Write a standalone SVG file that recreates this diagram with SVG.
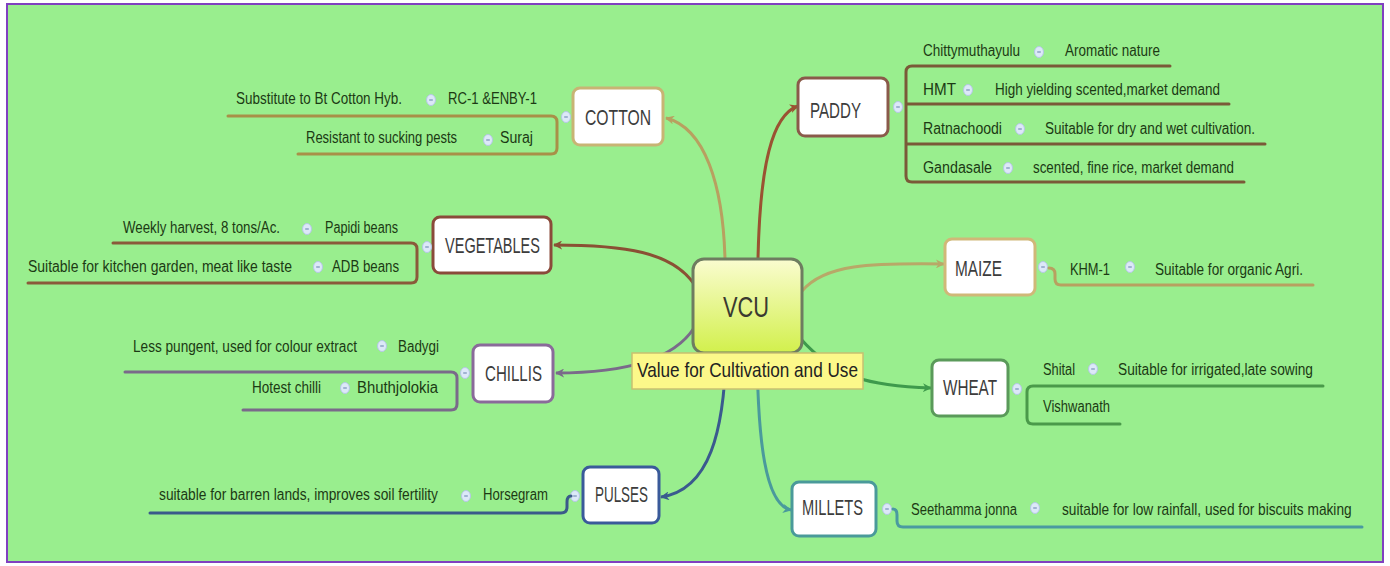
<svg xmlns="http://www.w3.org/2000/svg" width="1390" height="566" viewBox="0 0 1390 566">
<defs>
<linearGradient id="gCenter" x1="0" y1="0" x2="0" y2="1">
<stop offset="0" stop-color="#fafcd0"/>
<stop offset="1" stop-color="#d2f04c"/>
</linearGradient>
<marker id="aCot" viewBox="0 0 10 10" refX="9" refY="5" markerWidth="9" markerHeight="9" markerUnits="userSpaceOnUse" orient="auto"><path d="M0,0 L10,5 L0,10 L3,5 z" fill="#b8a060"/></marker>
<marker id="aPad" viewBox="0 0 10 10" refX="9" refY="5" markerWidth="9" markerHeight="9" markerUnits="userSpaceOnUse" orient="auto"><path d="M0,0 L10,5 L0,10 L3,5 z" fill="#9a5232"/></marker>
<marker id="aVeg" viewBox="0 0 10 10" refX="9" refY="5" markerWidth="9" markerHeight="9" markerUnits="userSpaceOnUse" orient="auto"><path d="M0,0 L10,5 L0,10 L3,5 z" fill="#8a5034"/></marker>
<marker id="aChi" viewBox="0 0 10 10" refX="9" refY="5" markerWidth="9" markerHeight="9" markerUnits="userSpaceOnUse" orient="auto"><path d="M0,0 L10,5 L0,10 L3,5 z" fill="#7a6a8a"/></marker>
<marker id="aMai" viewBox="0 0 10 10" refX="9" refY="5" markerWidth="9" markerHeight="9" markerUnits="userSpaceOnUse" orient="auto"><path d="M0,0 L10,5 L0,10 L3,5 z" fill="#b8a868"/></marker>
<marker id="aWhe" viewBox="0 0 10 10" refX="9" refY="5" markerWidth="9" markerHeight="9" markerUnits="userSpaceOnUse" orient="auto"><path d="M0,0 L10,5 L0,10 L3,5 z" fill="#3e9a4c"/></marker>
<marker id="aPul" viewBox="0 0 10 10" refX="9" refY="5" markerWidth="9" markerHeight="9" markerUnits="userSpaceOnUse" orient="auto"><path d="M0,0 L10,5 L0,10 L3,5 z" fill="#3a5a8e"/></marker>
<marker id="aMil" viewBox="0 0 10 10" refX="9" refY="5" markerWidth="9" markerHeight="9" markerUnits="userSpaceOnUse" orient="auto"><path d="M0,0 L10,5 L0,10 L3,5 z" fill="#4a9a9c"/></marker>
<g id="minus">
<ellipse cx="0" cy="0" rx="4.5" ry="5.5" fill="#dce8f8" stroke="#b4c8e4" stroke-width="1"/>
<line x1="-1.8" y1="0" x2="1.8" y2="0" stroke="#7890b8" stroke-width="1.2"/>
</g>
</defs>
<style>
.leaf{font-family:"Liberation Sans",Arial,sans-serif;font-size:16px;fill:#1c3a14}
.ntext{font-family:"Liberation Sans",Arial,sans-serif;font-size:22px;fill:#3c3c3c}
.node{fill:#ffffff;stroke-width:3}
.conn{fill:none;stroke-width:3}
.br{fill:none;stroke-width:3;stroke-linecap:round}
</style>
<rect x="0" y="0" width="1390" height="566" fill="#ffffff"/>
<rect x="7" y="4" width="1376" height="558" fill="#99ee8e" stroke="#8040c0" stroke-width="2"/>

<g id="connectors">
<path class="conn" d="M725,259 C723,185 705,128 666,118" stroke="#b8a060" marker-end="url(#aCot)"/>
<path class="conn" d="M758,259 C760,165 772,115 798,106" stroke="#9a5232" marker-end="url(#aPad)"/>
<path class="conn" d="M694,284 C672,252 625,245 554,245" stroke="#8a5034" marker-end="url(#aVeg)"/>
<path class="conn" d="M694,328 C672,362 620,373 556,373" stroke="#7a6a8a" marker-end="url(#aChi)"/>
<path class="conn" d="M802,291 C825,264 870,263 944,264" stroke="#b8a868" marker-end="url(#aMai)"/>
<path class="conn" d="M800,338 C835,378 870,386 931,388" stroke="#3e9a4c" marker-end="url(#aWhe)"/>
<path class="conn" d="M726,353 C724,430 710,490 661,497" stroke="#3a5a8e" marker-end="url(#aPul)"/>
<path class="conn" d="M757,353 C758,440 765,505 791,510" stroke="#4a9a9c" marker-end="url(#aMil)"/>
</g>

<g id="node-vcu">
<rect x="693" y="259" width="109" height="94" rx="11" fill="url(#gCenter)" stroke="#6e7c60" stroke-width="3"/>
<text x="723" y="317" class="ntext" style="font-size:30px;fill:#3a3a30" textLength="46" lengthAdjust="spacingAndGlyphs">VCU</text>
</g>
<g id="label-vcu">
<rect x="632" y="353" width="231" height="36" fill="#fcf88a" stroke="#c8c070" stroke-width="1.5"/>
<text x="637" y="377" class="leaf" style="font-size:21px;fill:#222" textLength="221" lengthAdjust="spacingAndGlyphs">Value for Cultivation and Use</text>
</g>

<g id="node-cotton">
<rect class="node" x="573" y="88" width="90" height="57" rx="7" stroke="#c8b474"/>
<text x="585" y="125" class="ntext" textLength="66" lengthAdjust="spacingAndGlyphs">COTTON</text>
<use href="#minus" x="566" y="117"/>
<path class="br" d="M228,116 H551 Q557,116 557,122 V148 Q557,154 551,154 H298" stroke="#a89048"/>
<text x="236" y="104" class="leaf" textLength="166" lengthAdjust="spacingAndGlyphs">Substitute to Bt Cotton Hyb.</text>
<use href="#minus" x="431" y="100"/>
<text x="448" y="104" class="leaf" textLength="89" lengthAdjust="spacingAndGlyphs">RC-1 &amp;ENBY-1</text>
<text x="306" y="143" class="leaf" textLength="151" lengthAdjust="spacingAndGlyphs">Resistant to sucking pests</text>
<use href="#minus" x="488" y="140"/>
<text x="500" y="143" class="leaf" textLength="33" lengthAdjust="spacingAndGlyphs">Suraj</text>
</g>

<g id="node-paddy">
<rect class="node" x="798" y="78" width="90" height="58" rx="7" stroke="#8a5a4a"/>
<text x="810" y="118" class="ntext" textLength="51" lengthAdjust="spacingAndGlyphs">PADDY</text>
<use href="#minus" x="898" y="107"/>
<path class="br" d="M1170,66 H912 Q906,66 906,72 V176 Q906,182 912,182 H1244 M906,104 H1229 M906,144 H1265" stroke="#7a5a38"/>
<text x="923" y="56" class="leaf" textLength="97" lengthAdjust="spacingAndGlyphs">Chittymuthayulu</text>
<use href="#minus" x="1039" y="52"/>
<text x="1065" y="56" class="leaf" textLength="95" lengthAdjust="spacingAndGlyphs">Aromatic nature</text>
<text x="923" y="95" class="leaf" textLength="33" lengthAdjust="spacingAndGlyphs">HMT</text>
<use href="#minus" x="968" y="90"/>
<text x="995" y="95" class="leaf" textLength="225" lengthAdjust="spacingAndGlyphs">High yielding scented,market demand</text>
<text x="923" y="134" class="leaf" textLength="79" lengthAdjust="spacingAndGlyphs">Ratnachoodi</text>
<use href="#minus" x="1020" y="129"/>
<text x="1045" y="134" class="leaf" textLength="210" lengthAdjust="spacingAndGlyphs">Suitable for dry and wet cultivation.</text>
<text x="923" y="173" class="leaf" textLength="69" lengthAdjust="spacingAndGlyphs">Gandasale</text>
<use href="#minus" x="1008" y="168"/>
<text x="1033" y="173" class="leaf" textLength="201" lengthAdjust="spacingAndGlyphs">scented, fine rice, market demand</text>
</g>

<g id="node-vegetables">
<rect class="node" x="433" y="217" width="118" height="56" rx="7" stroke="#8a4a3a"/>
<text x="445" y="253" class="ntext" textLength="95" lengthAdjust="spacingAndGlyphs">VEGETABLES</text>
<use href="#minus" x="427" y="247"/>
<path class="br" d="M113,243 H411 Q417,243 417,249 V277 Q417,283 411,283 H28" stroke="#8a5a3a"/>
<text x="123" y="233" class="leaf" textLength="157" lengthAdjust="spacingAndGlyphs">Weekly harvest, 8 tons/Ac.</text>
<use href="#minus" x="307" y="229"/>
<text x="325" y="233" class="leaf" textLength="73" lengthAdjust="spacingAndGlyphs">Papidi beans</text>
<text x="28" y="272" class="leaf" textLength="264" lengthAdjust="spacingAndGlyphs">Suitable for kitchen garden, meat like taste</text>
<use href="#minus" x="318" y="267"/>
<text x="332" y="272" class="leaf" textLength="67" lengthAdjust="spacingAndGlyphs">ADB beans</text>
</g>

<g id="node-chillis">
<rect class="node" x="473" y="345" width="80" height="57" rx="7" stroke="#8a6a9a"/>
<text x="485" y="381" class="ntext" textLength="57" lengthAdjust="spacingAndGlyphs">CHILLIS</text>
<use href="#minus" x="465" y="373"/>
<path class="br" d="M125,372 H451 Q457,372 457,378 V404 Q457,410 451,410 H243" stroke="#7a6a8a"/>
<text x="133" y="352" class="leaf" textLength="224" lengthAdjust="spacingAndGlyphs">Less pungent, used for colour extract</text>
<use href="#minus" x="382" y="346"/>
<text x="398" y="352" class="leaf" textLength="41" lengthAdjust="spacingAndGlyphs">Badygi</text>
<text x="252" y="393" class="leaf" textLength="69" lengthAdjust="spacingAndGlyphs">Hotest chilli</text>
<use href="#minus" x="345" y="388"/>
<text x="357" y="393" class="leaf" textLength="81" lengthAdjust="spacingAndGlyphs">Bhuthjolokia</text>
</g>

<g id="node-maize">
<rect class="node" x="945" y="239" width="90" height="56" rx="7" stroke="#d0b878"/>
<text x="955" y="276" class="ntext" textLength="47" lengthAdjust="spacingAndGlyphs">MAIZE</text>
<use href="#minus" x="1043" y="267"/>
<path class="br" d="M1049,268 Q1055,268 1055,274 V279 Q1055,285 1061,285 H1313" stroke="#b8a060"/>
<text x="1070" y="275" class="leaf" textLength="40" lengthAdjust="spacingAndGlyphs">KHM-1</text>
<use href="#minus" x="1130" y="267"/>
<text x="1155" y="275" class="leaf" textLength="148" lengthAdjust="spacingAndGlyphs">Suitable for organic Agri.</text>
</g>

<g id="node-wheat">
<rect class="node" x="932" y="360" width="76" height="56" rx="7" stroke="#5a9a5a"/>
<text x="943" y="395" class="ntext" textLength="54" lengthAdjust="spacingAndGlyphs">WHEAT</text>
<use href="#minus" x="1017" y="389"/>
<path class="br" d="M1323,386 H1033 Q1027,386 1027,392 V418 Q1027,424 1033,424 H1120" stroke="#4a9a4a"/>
<text x="1043" y="375" class="leaf" textLength="32" lengthAdjust="spacingAndGlyphs">Shital</text>
<use href="#minus" x="1093" y="369"/>
<text x="1118" y="375" class="leaf" textLength="195" lengthAdjust="spacingAndGlyphs">Suitable for irrigated,late sowing</text>
<text x="1043" y="412" class="leaf" textLength="67" lengthAdjust="spacingAndGlyphs">Vishwanath</text>
</g>

<g id="node-pulses">
<rect class="node" x="583" y="467" width="76" height="56" rx="7" stroke="#3a5a9a"/>
<text x="595" y="502" class="ntext" textLength="53" lengthAdjust="spacingAndGlyphs">PULSES</text>
<use href="#minus" x="575" y="496"/>
<path class="br" d="M150,513 H561 Q567,513 567,507 V502 Q567,496 571,496" stroke="#3a5a8a"/>
<text x="159" y="500" class="leaf" textLength="279" lengthAdjust="spacingAndGlyphs">suitable for barren lands, improves soil fertility</text>
<use href="#minus" x="466" y="496"/>
<text x="483" y="500" class="leaf" textLength="65" lengthAdjust="spacingAndGlyphs">Horsegram</text>
</g>

<g id="node-millets">
<rect class="node" x="792" y="482" width="84" height="54" rx="7" stroke="#4a9a9a"/>
<text x="802" y="515" class="ntext" textLength="61" lengthAdjust="spacingAndGlyphs">MILLETS</text>
<use href="#minus" x="887" y="509"/>
<path class="br" d="M893,509 Q897,509 897,515 V521 Q897,527 903,527 H1362" stroke="#4a9aa0"/>
<text x="911" y="515" class="leaf" textLength="106" lengthAdjust="spacingAndGlyphs">Seethamma jonna</text>
<use href="#minus" x="1035" y="508"/>
<text transform="translate(1062,515) scale(0.8,1)" x="0" y="0" class="leaf" textLength="362" lengthAdjust="spacingAndGlyphs">suitable for low rainfall, used for biscuits making</text>
</g>
</svg>
